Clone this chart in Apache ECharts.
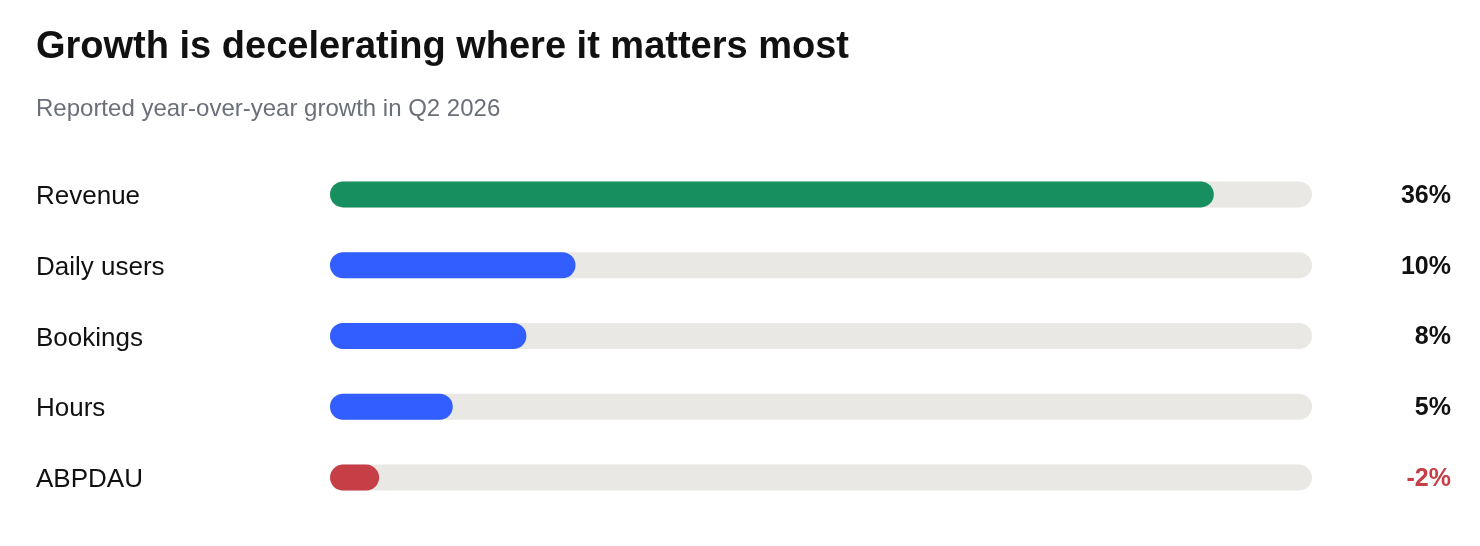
<!DOCTYPE html>
<html>
<head>
<meta charset="utf-8">
<script src="https://cdn.jsdelivr.net/npm/echarts@6/dist/echarts.min.js"></script>
<style>
  html, body { margin: 0; padding: 0; background: #fff; }
  #chart { width: 1480px; height: 546px; }
</style>
</head>
<body>
<div id="chart"></div>
<script>
// 数据
const metrics = ['Revenue', 'Daily users', 'Bookings', 'Hours', 'ABPDAU']
const growth = [36, 10, 8, 5, -2]
const axisMax = 40

const FONT = '"Liberation Sans", Arial, Helvetica, sans-serif'

// 颜色规则：负数红色，第一项绿色，其余蓝色
const barColor = (v, i) => v < 0 ? '#c63e46' : (i === 0 ? '#178f5f' : '#335eff')

const myChart = echarts.init(document.querySelector('#chart'))
const option = {
  animation: false,
  title: [
    {
      text: 'Growth is decelerating where it matters most',
      left: 36,
      top: 29,
      padding: 0,
      textStyle: { fontFamily: FONT, fontSize: 38, fontWeight: 'bold', color: '#111111' }
    },
    {
      text: 'Reported year-over-year growth in Q2 2026',
      left: 36,
      top: 97,
      padding: 0,
      textStyle: { fontFamily: FONT, fontSize: 24, fontWeight: 'normal', color: '#6b6f7a' }
    }
  ],
  grid: {
    left: 330,
    right: 168,
    top: 159,
    bottom: 33
  },
  xAxis: {
    type: 'value',
    min: 0,
    max: axisMax,
    show: false
  },
  yAxis: [
    {
      type: 'category',
      data: metrics,
      inverse: true,
      axisLine: { show: false },
      axisTick: { show: false },
      axisLabel: {
        align: 'left',
        margin: 294,
        formatter: value => `{l|${value}}`,
        rich: {
          l: { fontFamily: FONT, fontSize: 26, color: '#111111', padding: [5, 0, 0, 0] }
        }
      }
    },
    {
      type: 'category',
      data: metrics,
      inverse: true,
      position: 'right',
      axisLine: { show: false },
      axisTick: { show: false },
      axisLabel: {
        align: 'right',
        margin: 139,
        padding: [3, 0, 0, 0],
        formatter: (value, index) => {
          const v = growth[index]
          return v < 0 ? `{neg|${v}%}` : `{pos|${v}%}`
        },
        rich: {
          pos: { fontFamily: FONT, fontSize: 25, fontWeight: 'bold', color: '#111111' },
          neg: { fontFamily: FONT, fontSize: 25, fontWeight: 'bold', color: '#c63e46' }
        }
      }
    }
  ],
  series: [
    {
      type: 'bar',
      barWidth: 26,
      showBackground: true,
      backgroundStyle: { color: '#e9e8e4', borderRadius: 13 },
      data: growth.map((v, i) => ({
        value: Math.abs(v),
        itemStyle: { color: barColor(v, i), borderRadius: 13 }
      }))
    }
  ]
}
myChart.setOption(option)
</script>
</body>
</html>
